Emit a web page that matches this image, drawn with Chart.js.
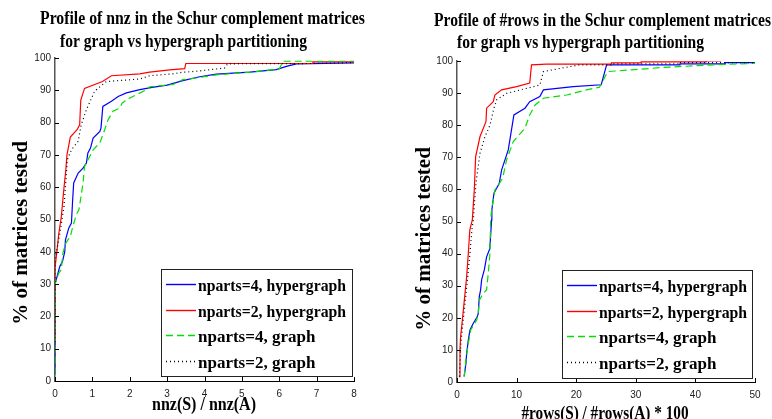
<!DOCTYPE html>
<html>
<head>
<meta charset="utf-8">
<script src="https://cdn.jsdelivr.net/npm/chart.js@4.4.1/dist/chart.umd.min.js"></script>
<style>
html, body { margin: 0; padding: 0; background: #fff; }
#wrap { position: relative; width: 772px; height: 419px; overflow: hidden; }
canvas { position: absolute; top: 0; }
</style>
</head>
<body>
<div id="wrap">
  <canvas id="nnzPlot" width="386" height="419" style="left:0px"></canvas>
  <canvas id="rowsPlot" width="386" height="419" style="left:386px"></canvas>
</div>
<script>
const seriesLabels = ['nparts=4, hypergraph', 'nparts=2, hypergraph', 'nparts=4, graph', 'nparts=2, graph'];

// left plot: nnz(S) / nnz(A)
const nnzX_h4 = [0, 0, 0.13, 0.2, 0.26, 0.28, 0.37, 0.44, 0.47, 0.5, 0.62, 0.75, 0.84, 0.88, 0.95, 1.02, 1.2, 1.23, 1.28, 1.51, 1.69, 1.91, 2.27, 2.6, 3.0, 3.42, 3.87, 4.32, 5.21, 5.92, 6.19, 6.46, 8];
const nnzY_h4 = [2, 30, 35.5, 37, 40, 43.7, 47.4, 48.9, 55.6, 61.3, 64.4, 65.9, 67.5, 70.6, 72.1, 75.2, 77.3, 78.3, 85, 86.6, 88.1, 89.2, 90.2, 90.9, 91.6, 93, 94.2, 95, 95.6, 96.4, 97.4, 98.2, 98.5];
const nnzX_h2 = [0, 0, 0.05, 0.1, 0.17, 0.24, 0.29, 0.32, 0.41, 0.59, 0.66, 0.69, 0.79, 1.27, 1.51, 2.27, 2.53, 3.07, 3.47, 3.5, 6.9, 6.9, 8];
const nnzY_h2 = [12, 35, 40, 45.5, 51, 59.8, 65.4, 70, 75.5, 77.8, 79.3, 87, 90.6, 92.7, 94.5, 95.1, 95.6, 96.3, 96.7, 98.3, 98.3, 98.8, 98.8];
const nnzX_g4 = [0, 0, 0.1, 0.17, 0.21, 0.29, 0.41, 0.48, 0.57, 0.64, 0.71, 0.75, 0.79, 1.02, 1.2, 1.33, 1.42, 1.55, 1.73, 1.8, 2.0, 2.45, 2.53, 3.16, 3.42, 3.78, 4.32, 5.21, 6.0, 6.1, 8];
const nnzY_g4 = [2, 30, 33.4, 34.5, 39.6, 42.7, 44.8, 47.9, 51.5, 53, 58.2, 61.3, 66.4, 71.6, 73.7, 77.8, 80.9, 83.5, 84.5, 86.1, 87.6, 90.2, 91.1, 91.8, 93.3, 93.8, 94.8, 95.6, 96.6, 99, 99];
const nnzX_g2 = [0, 0, 0.04, 0.13, 0.24, 0.3, 0.33, 0.44, 0.62, 0.7, 0.84, 1.06, 1.37, 2.27, 2.53, 3.15, 3.42, 3.78, 4.54, 4.62, 6.9, 8];
const nnzY_g2 = [12, 38, 40, 45.7, 54, 63.3, 68.5, 71.6, 74.2, 79.3, 84, 89.7, 92.7, 93.5, 94.5, 95.1, 95.6, 95.9, 96.9, 98.2, 98.3, 98.6];

// right plot: #rows(S) / #rows(A) * 100
const rowsX_h4 = [1.2, 1.5, 1.62, 1.9, 2.18, 2.74, 3.4, 3.57, 3.74, 3.96, 4.13, 4.58, 4.97, 5.5, 5.81, 5.85, 6.2, 7.09, 7.48, 8.6, 9.55, 11.4, 12.2, 13.9, 14.5, 19.5, 24.2, 25.1, 37.4, 37.4, 45, 45, 50];
const rowsY_h4 = [1.7, 5.8, 8.9, 13.1, 16.2, 18.3, 20.3, 21.4, 26.6, 28.7, 31.8, 34.9, 39, 41.5, 50.5, 53.6, 58.8, 61.9, 66, 72.3, 83.2, 85.3, 87.3, 88.9, 91, 92, 92.6, 98.8, 98.8, 99.1, 99.1, 99.5, 99.5];
const rowsX_h2 = [0.34, 0.5, 0.6, 0.9, 1.23, 1.62, 1.9, 2.15, 2.57, 2.9, 3.13, 3.85, 4.86, 4.97, 6.08, 6.36, 7.48, 10, 12.2, 12.5, 15, 25.9, 25.9, 30.9, 30.9, 41.8, 41.8, 44.3];
const rowsY_h2 = [1.7, 10, 14.1, 19.3, 25.5, 32.8, 40.1, 47.4, 50.5, 59.8, 70.2, 76.4, 81.1, 85.3, 87.3, 89.4, 91, 92, 93.1, 98.8, 99, 99, 99.4, 99.4, 99.7, 99.7, 100, 100];
const rowsX_g4 = [1.2, 1.5, 1.9, 2.3, 3.3, 3.57, 3.74, 4.41, 4.97, 5.25, 5.53, 5.64, 5.81, 6.36, 7.65, 8.32, 9.44, 11.4, 12.2, 13.1, 14.5, 18.4, 21.7, 23.9, 25.3, 29, 34.6, 42.9, 50];
const rowsY_g4 = [1.7, 6.9, 12, 16.2, 19.3, 21.4, 25.5, 27.6, 28.7, 33.9, 40.1, 50.5, 53.6, 59.8, 63.4, 69.2, 74.9, 79, 83.2, 86.3, 88.4, 89.4, 91, 91.8, 96.7, 97.2, 98, 98.8, 99.3];
const rowsX_g2 = [0.4, 0.6, 0.75, 1.05, 1.4, 1.8, 2.18, 2.5, 2.74, 2.85, 3.18, 3.85, 4.69, 5.53, 6.2, 6.65, 8.3, 11.7, 13.9, 14.5, 17.3, 20.6, 25.8, 25.8, 37.4, 37.4, 50];
const rowsY_g2 = [1.7, 10, 14, 19.3, 25.5, 32.8, 40.1, 47.4, 50.5, 53.6, 61.9, 71.2, 76.4, 80, 85.3, 87.9, 89.9, 91.5, 92.5, 96.7, 97.7, 98.8, 98.8, 99.1, 99.1, 99.5, 99.5];

const yTicks = [0, 10, 20, 30, 40, 50, 60, 70, 80, 90, 100];
const nnzTicks = [0, 1, 2, 3, 4, 5, 6, 7, 8];
const rowsTicks = [0, 10, 20, 30, 40, 50];

const styles = [
  { color: '#0000ff', dash: [] },
  { color: '#ff0000', dash: [] },
  { color: '#00e000', dash: [7, 4] },
  { color: '#000000', dash: [1, 3] }
];

function pts(xs, ys) {
  return xs.map((x, i) => ({ x: x, y: ys[i] }));
}

function makeSets(groups) {
  return groups.map((g, i) => ({
    label: seriesLabels[i],
    data: pts(g[0], g[1]),
    borderColor: styles[i].color,
    borderDash: styles[i].dash,
    borderWidth: 1.2,
    pointRadius: 0,
    tension: 0,
    fill: false,
    order: 4 - i
  }));
}

const serif = '"Liberation Serif", "Times New Roman", serif';

function decor(g) {
  return {
    id: 'decor',
    afterDraw(chart) {
      const ctx = chart.ctx;
      const xs = chart.scales.x, ys = chart.scales.y;
      ctx.save();
      // inward tick marks
      ctx.strokeStyle = '#000';
      ctx.lineWidth = 1;
      ctx.setLineDash([]);
      ctx.beginPath();
      xs.ticks.forEach(t => {
        const p = Math.round(xs.getPixelForValue(t.value)) + 0.5;
        ctx.moveTo(p, xs.top);
        ctx.lineTo(p, xs.top - 4);
      });
      ys.ticks.forEach(t => {
        const p = Math.round(ys.getPixelForValue(t.value)) + 0.5;
        ctx.moveTo(ys.right, p);
        ctx.lineTo(ys.right + 4, p);
      });
      ctx.stroke();

      // title
      ctx.fillStyle = '#000';
      ctx.textAlign = 'left';
      ctx.textBaseline = 'alphabetic';
      ctx.font = 'bold 18px ' + serif;
      g.title.forEach((line, i) => ctx.fillText(line, g.titleX[i], g.titleY[i], g.titleW[i]));

      // x axis title
      ctx.textAlign = 'center';
      ctx.fillText(g.xTitle, g.xTitlePos[0], g.xTitlePos[1], g.xTitleW);

      // y axis title
      ctx.save();
      ctx.translate(g.yTitlePos[0], g.yTitlePos[1]);
      ctx.rotate(-Math.PI / 2);
      ctx.textBaseline = 'middle';
      ctx.font = 'bold 21px ' + serif;
      ctx.fillText('% of matrices tested', 0, 0, 195);
      ctx.restore();

      // legend box
      const b = g.legend;
      ctx.fillStyle = '#fff';
      ctx.fillRect(b[0], b[1], b[2] - b[0], b[3] - b[1]);
      ctx.strokeStyle = '#222';
      ctx.lineWidth = 1;
      ctx.strokeRect(b[0] + 0.5, b[1] + 0.5, b[2] - b[0], b[3] - b[1]);
      ctx.font = 'bold 17px ' + serif;
      ctx.textAlign = 'left';
      ctx.textBaseline = 'alphabetic';
      chart.data.datasets.forEach((ds, i) => {
        const ly = Math.round(b[1] + 15 + i * 25.7) + 0.5;
        ctx.strokeStyle = ds.borderColor;
        ctx.setLineDash(ds.borderDash);
        ctx.lineWidth = 1.4;
        ctx.beginPath();
        ctx.moveTo(b[0] + 5, ly);
        ctx.lineTo(b[0] + 35, ly);
        ctx.stroke();
        ctx.fillStyle = '#000';
        ctx.fillText(ds.label, b[0] + 37, b[1] + 22 + i * 25.7, 148);
      });
      ctx.restore();
    }
  };
}

function makeChart(id, sets, xMax, xTicks, geo) {
  return new Chart(document.getElementById(id), {
    type: 'line',
    data: { datasets: sets },
    options: {
      responsive: false,
      animation: false,
      layout: { padding: { left: 0, top: geo.top, right: geo.right, bottom: 0 } },
      plugins: { legend: { display: false }, tooltip: { enabled: false }, title: { display: false } },
      scales: {
        x: {
          type: 'linear',
          min: 0, max: xMax,
          afterBuildTicks: s => { s.ticks = xTicks.map(v => ({ value: v })); },
          afterFit: s => { s.height = geo.xh; },
          grid: { display: true, drawOnChartArea: false, drawTicks: false },
          border: { display: true, color: '#000', width: 1 },
          ticks: { padding: 7, color: '#222', font: { family: 'Liberation Sans', size: 10 } }
        },
        y: {
          type: 'linear',
          min: 0, max: 100,
          afterBuildTicks: s => { s.ticks = yTicks.map(v => ({ value: v })); },
          afterFit: s => { s.width = geo.yw; },
          grid: { display: true, drawOnChartArea: false, drawTicks: false },
          border: { display: true, color: '#555', width: 1.5 },
          ticks: { padding: 4, color: '#222', font: { family: 'Liberation Sans', size: 10 } }
        }
      }
    },
    plugins: [decor(geo)]
  });
}

makeChart('nnzPlot', makeSets([[nnzX_h4, nnzY_h4], [nnzX_h2, nnzY_h2], [nnzX_g4, nnzY_g4], [nnzX_g2, nnzY_g2]]), 8, nnzTicks, {
  top: 58, right: 32, xh: 38, yw: 55,
  title: ['Profile of nnz in the Schur complement matrices', 'for graph vs hypergraph partitioning'],
  titleX: [40, 60], titleY: [24, 47], titleW: [325, 247],
  xTitle: 'nnz(S) / nnz(A)', xTitlePos: [204, 410], xTitleW: 104,
  yTitlePos: [22, 233],
  legend: [161, 269, 352, 376]
});

makeChart('rowsPlot', makeSets([[rowsX_h4, rowsY_h4], [rowsX_h2, rowsY_h2], [rowsX_g4, rowsY_g4], [rowsX_g2, rowsY_g2]]), 50, rowsTicks, {
  top: 61, right: 17, xh: 37, yw: 71,
  title: ['Profile of #rows in the Schur complement matrices', 'for graph vs hypergraph partitioning'],
  titleX: [48, 71], titleY: [26, 48], titleW: [337, 247],
  xTitle: '#rows(S) / #rows(A) * 100', xTitlePos: [219, 419], xTitleW: 167,
  yTitlePos: [39, 239],
  legend: [176, 270, 366, 378]
});
</script>
</body>
</html>
